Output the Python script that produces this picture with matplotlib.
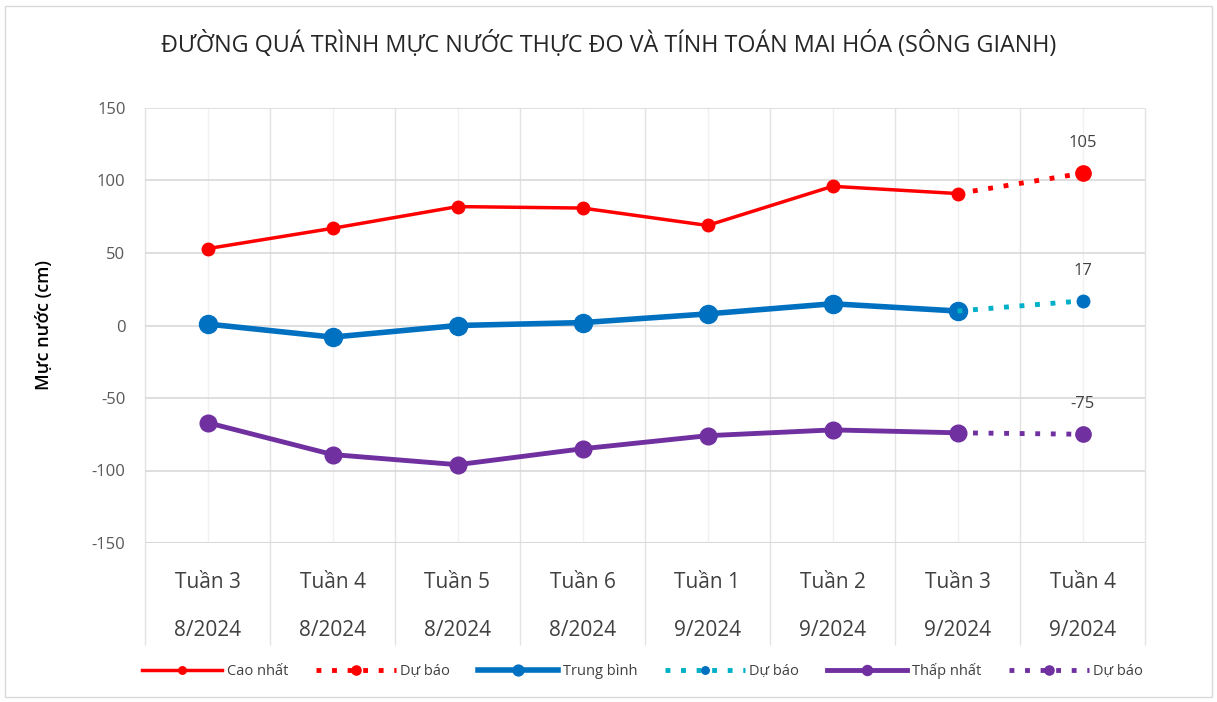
import matplotlib
matplotlib.use("Agg")
import matplotlib.pyplot as plt
from matplotlib.patches import Rectangle
import numpy as np

plt.rcParams['font.family'] = ['Open Sans', 'DejaVu Sans']
plt.rcParams['axes.unicode_minus'] = False

# data
weeks = ["Tuần 3\n8/2024", "Tuần 4\n8/2024", "Tuần 5\n8/2024", "Tuần 6\n8/2024",
         "Tuần 1\n9/2024", "Tuần 2\n9/2024", "Tuần 3\n9/2024", "Tuần 4\n9/2024"]
cao_nhat = [53, 67, 82, 81, 69, 96, 91]
trung_binh = [1, -8, 0, 2, 8, 15, 10]
thap_nhat = [-67, -89, -96, -85, -76, -72, -74]
du_bao_cao = [91, 105]
du_bao_tb = [10, 17]
du_bao_thap = [-74, -75]

x = np.arange(len(weeks))
x_obs = x[:len(cao_nhat)]
x_fc = x[len(cao_nhat) - 1:]

fig = plt.figure(figsize=(12.17, 7.02), dpi=100)
ax = fig.add_axes([145 / 1217, 1 - 543 / 702, 1000 / 1217, 435 / 702])

red = "#ff0000"
blue = "#0070c0"
teal = "#00b0c8"
purple = "#7030a0"

ax.plot(x_obs, cao_nhat, color=red, lw=2.5, marker="o", ms=9, label="Cao nhất", zorder=3)
ax.plot(x_fc, du_bao_cao, color=red, lw=3.5, ls=(0, (1, 2.2)), marker="o", ms=11,
        markevery=[1], label="Dự báo", zorder=3)
ax.plot(x_obs, trung_binh, color=blue, lw=4, marker="o", ms=13, label="Trung bình", zorder=3)
ax.plot(x_fc, du_bao_tb, color=teal, lw=3.5, ls=(0, (1, 2.2)), marker="o", ms=9,
        markevery=[1], mfc=blue, mec=blue, label="Dự báo", zorder=3)
ax.plot(x_obs, thap_nhat, color=purple, lw=3.5, marker="o", ms=12, label="Thấp nhất", zorder=3)
ax.plot(x_fc, du_bao_thap, color=purple, lw=3.5, ls=(0, (1, 2.2)), marker="o", ms=11,
        markevery=[1], label="Dự báo", zorder=3)

# value labels on the forecast points
for vals in (du_bao_cao, du_bao_tb, du_bao_thap):
    ax.annotate(str(vals[-1]), (x_fc[-1], vals[-1]), xytext=(0, 16), textcoords="offset points",
                ha="center", va="bottom", fontsize=12, color="#404040")

ax.set_xlim(-0.5, len(weeks) - 0.5)
ax.set_ylim(-150, 150)
ax.set_yticks(np.arange(-150, 151, 50))
ax.set_xticks(x)
ax.set_xticklabels(weeks, fontsize=15, color="#404040", linespacing=2.7)
ax.tick_params(axis="x", length=0, pad=21)
ax.tick_params(axis="y", length=0, pad=14, labelsize=12, labelcolor="#595959")

ax.grid(axis="y", color="#d9d9d9", lw=1.2)
ax.grid(axis="x", color="#f0f0f0", lw=1)
for s in ax.spines.values():
    s.set_visible(False)
ax.axhline(-150, color="#d9d9d9", lw=1.5, zorder=1)

# category boundaries running down through the label area
bounds = np.arange(-0.5, len(weeks), 1.0)
ax.vlines(bounds, -0.235, 1, transform=ax.get_xaxis_transform(), color="#e3e3e3",
          lw=1, clip_on=False, zorder=0)

ax.set_ylabel("Mực nước (cm)", fontsize=13, fontweight="semibold", color="black", labelpad=28)

fig.text(0.5, 1 - 45 / 702, "ĐƯỜNG QUÁ TRÌNH MỰC NƯỚC THỰC ĐO VÀ TÍNH TOÁN MAI HÓA (SÔNG GIANH)",
         ha="center", va="center", fontsize=16.8, color="#262626")

leg = fig.legend(loc="center", bbox_to_anchor=(0.528, 1 - 671 / 702), ncol=6, frameon=False,
                 fontsize=10.5, labelcolor="#404040", handlelength=5.5, columnspacing=1.9,
                 handletextpad=0.3, markerscale=0.6)

fig.patches.append(Rectangle((5 / 1217, 5 / 702), 1207 / 1217, 691 / 702,
                             transform=fig.transFigure, fill=False, ec="#d9d9d9", lw=1))

fig.savefig("out.png", dpi=100)
